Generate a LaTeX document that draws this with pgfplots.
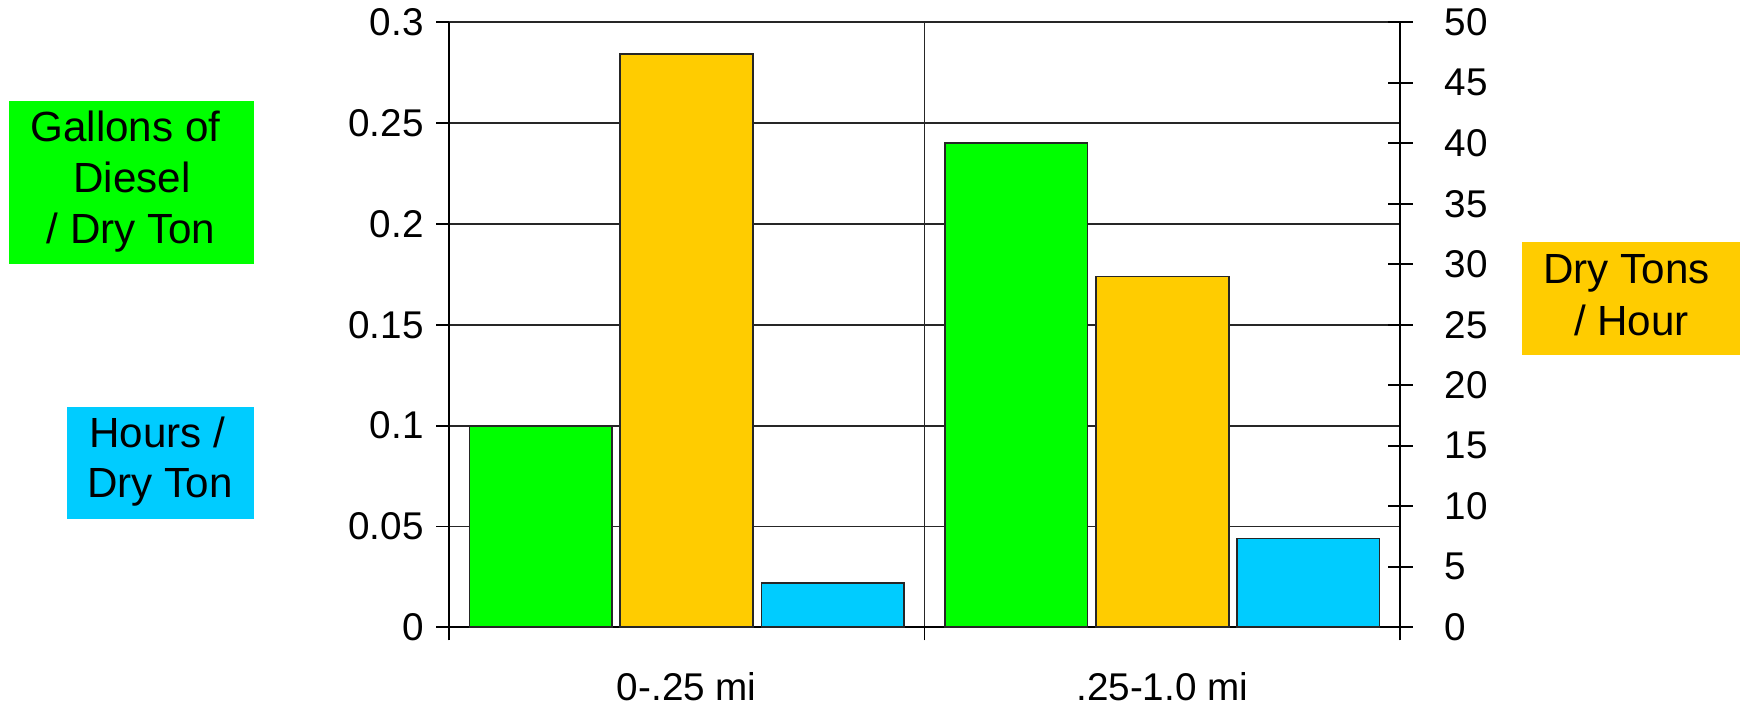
\documentclass[border=0pt]{standalone}
\usepackage{pgfplots}
\pgfplotsset{compat=1.18}
\usepackage{fontspec}
\setmainfont{Liberation Sans}

\definecolor{dieselgreen}{HTML}{00FF00}
\definecolor{tonyellow}{HTML}{FFCC00}
\definecolor{hourblue}{HTML}{00CCFF}

\newcommand{\ticksize}{\fontsize{11}{13}\selectfont}
\newcommand{\boxsize}{\fontsize{12}{14}\selectfont}

\begin{document}
\begin{tikzpicture}
\useasboundingbox (0,0) rectangle (17.4,7.05);

% Left axis: gallons of diesel per dry ton and hours per dry ton
\begin{axis}[
  at={(4.49cm,0.777cm)}, anchor=south west,
  scale only axis, width=9.51cm, height=6.05cm,
  xmin=0, xmax=2, ymin=0, ymax=0.3,
  axis x line*=bottom, axis y line*=left,
  axis line style={black, line width=0.55pt},
  xtick={0,1,2}, xticklabels={},
  xmajorgrids,
  extra x ticks={0.5,1.5},
  extra x tick labels={0-.25 mi,.25-1.0 mi},
  extra x tick style={grid=none, major tick length=0pt},
  xticklabel style={font=\ticksize, anchor=base, yshift=-0.735cm},
  ytick={0,0.05,0.1,0.15,0.2,0.25,0.3},
  yticklabels={0,0.05,0.1,0.15,0.2,0.25,0.3},
  yticklabel style={font=\ticksize},
  ymajorgrids,
  tick align=outside,
  major tick length=0.13cm,
  tick style={black, line width=0.5pt},
  major grid style={black!85, line width=0.5pt},
]
\addplot[ybar, bar width=0.3, bar shift=-0.307, fill=dieselgreen, draw=black!85, line width=0.5pt]
  coordinates {(0.5,0.1) (1.5,0.24)};
\addplot[ybar, bar width=0.3, bar shift=0.307, fill=hourblue, draw=black!85, line width=0.5pt]
  coordinates {(0.5,0.022) (1.5,0.044)};
\end{axis}

% Right axis: dry tons per hour
\begin{axis}[
  at={(4.49cm,0.777cm)}, anchor=south west,
  scale only axis, width=9.51cm, height=6.05cm,
  xmin=0, xmax=2, ymin=0, ymax=50,
  axis x line=none, axis y line*=right,
  axis line style={black, line width=0.55pt},
  ytick={0,5,...,50},
  yticklabel style={font=\ticksize, xshift=0.2cm},
  /pgf/number format/assume math mode=true,
  tick align=center,
  major tick length=0.25cm,
  tick style={black, line width=0.5pt},
]
\addplot[ybar, bar width=0.28, bar shift=0, fill=tonyellow, draw=black!85, line width=0.5pt]
  coordinates {(0.5,47.4) (1.5,29)};
\end{axis}

% Series captions
\fill[dieselgreen] (0.09,4.41) rectangle (2.54,6.04);
\node[anchor=base, font=\boxsize, inner sep=0pt] at (1.255,5.63) {Gallons of};
\node[anchor=base, font=\boxsize, inner sep=0pt] at (1.32,5.12) {Diesel};
\node[anchor=base, font=\boxsize, inner sep=0pt] at (1.31,4.61) {/ Dry Ton};

\fill[hourblue] (0.67,1.86) rectangle (2.54,2.98);
\node[anchor=base, font=\boxsize, inner sep=0pt] at (1.575,2.57) {Hours /};
\node[anchor=base, font=\boxsize, inner sep=0pt] at (1.60,2.07) {Dry Ton};

\fill[tonyellow] (15.22,3.50) rectangle (17.40,4.63);
\node[anchor=base, font=\boxsize, inner sep=0pt] at (16.265,4.21) {Dry Tons};
\node[anchor=base, font=\boxsize, inner sep=0pt] at (16.315,3.69) {/ Hour};
\end{tikzpicture}
\end{document}
